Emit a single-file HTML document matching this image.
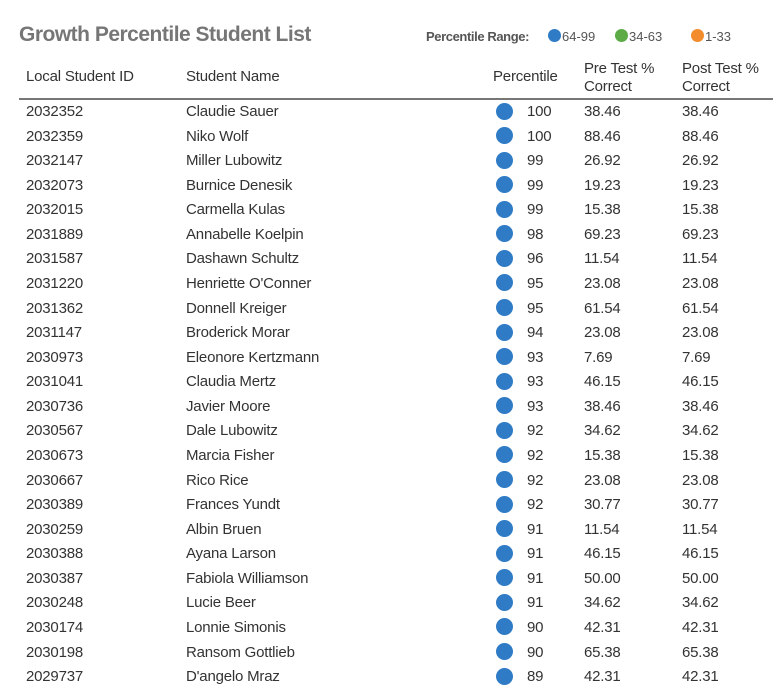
<!DOCTYPE html>
<html><head><meta charset="utf-8">
<style>
body{margin:0;background:#fff;width:784px;height:692px;overflow:hidden;font-family:"Liberation Sans",sans-serif;color:#333;}
.a{position:absolute;white-space:nowrap;}
#title{left:19px;top:23px;font-size:21px;font-weight:bold;color:#767676;letter-spacing:-0.5px;}
.lg{font-size:13px;top:29px;color:#555;}
.dot{position:absolute;border-radius:50%;}
.h{font-size:15px;color:#333;letter-spacing:-0.2px;}
.c{font-size:15px;color:#333;letter-spacing:-0.2px;line-height:18px;}
</style></head><body>
<div id="chart" style="position:relative;width:784px;height:692px;">
<div class="a" id="title">Growth Percentile Student List</div>
<div class="a lg" style="left:426px;font-weight:bold;letter-spacing:-0.4px;">Percentile Range:</div>
<div class="dot" style="left:548px;top:29px;width:13px;height:13px;background:#2f7bc6"></div>
<div class="a lg" style="left:562px;">64-99</div>
<div class="dot" style="left:615px;top:29px;width:13px;height:13px;background:#5cab47"></div>
<div class="a lg" style="left:629px;">34-63</div>
<div class="dot" style="left:691px;top:29px;width:13px;height:13px;background:#f28c2c"></div>
<div class="a lg" style="left:705px;">1-33</div>
<div class="a h" style="left:26px;top:68px;">Local Student ID</div>
<div class="a h" style="left:186px;top:68px;">Student Name</div>
<div class="a h" style="left:493px;top:68px;">Percentile</div>
<div class="a h" style="left:584px;top:60px;line-height:18px;">Pre Test %<br>Correct</div>
<div class="a h" style="left:682px;top:60px;line-height:18px;">Post Test %<br>Correct</div>
<div class="a" style="left:19px;top:98px;width:754px;height:2px;background:#777;"></div>
<div id="rows"></div>
</div>
<script>
const ids=["2032352","2032359","2032147","2032073","2032015","2031889","2031587","2031220","2031362","2031147","2030973","2031041","2030736","2030567","2030673","2030667","2030389","2030259","2030388","2030387","2030248","2030174","2030198","2029737"];
const names=["Claudie Sauer","Niko Wolf","Miller Lubowitz","Burnice Denesik","Carmella Kulas","Annabelle Koelpin","Dashawn Schultz","Henriette O'Conner","Donnell Kreiger","Broderick Morar","Eleonore Kertzmann","Claudia Mertz","Javier Moore","Dale Lubowitz","Marcia Fisher","Rico Rice","Frances Yundt","Albin Bruen","Ayana Larson","Fabiola Williamson","Lucie Beer","Lonnie Simonis","Ransom Gottlieb","D'angelo Mraz"];
const percentiles=[100,100,99,99,99,98,96,95,95,94,93,93,93,92,92,92,92,91,91,91,91,90,90,89];
const preTest=["38.46","88.46","26.92","19.23","15.38","69.23","11.54","23.08","61.54","23.08","7.69","46.15","38.46","34.62","15.38","23.08","30.77","11.54","46.15","50.00","34.62","42.31","65.38","42.31"];
const postTest=["38.46","88.46","26.92","19.23","15.38","69.23","11.54","23.08","61.54","23.08","7.69","46.15","38.46","34.62","15.38","23.08","30.77","11.54","46.15","50.00","34.62","42.31","65.38","42.31"];
const root=document.getElementById('rows');
function color(p){return p>=64?'#2f7bc6':(p>=34?'#5cab47':'#f28c2c');}
function rowY(i){return 111+i*24.57;}
ids.forEach((id,i)=>{
  const y=rowY(i);
  const row=document.createElement('div');
  
  
  const cells=[[26,id,'cell-id'],[186,names[i],'cell-name'],[527,String(percentiles[i]),'cell-percentile'],[584,preTest[i],'cell-pre-test'],[682,postTest[i],'cell-post-test']];
  cells.forEach(c=>{
    const d=document.createElement('div');
    d.className='a c';
    d.style.left=c[0]+'px';d.style.top=(y-8)+'px';
    d.textContent=c[1];
    
    
    row.appendChild(d);
  });
  const dot=document.createElement('div');
  dot.className='dot';
  dot.style.left='496px';dot.style.top=(y-8.5)+'px';dot.style.width='17px';dot.style.height='17px';
  dot.style.background=color(percentiles[i]);
  
  
  row.appendChild(dot);
  root.appendChild(row);
});
</script>
</body></html>
